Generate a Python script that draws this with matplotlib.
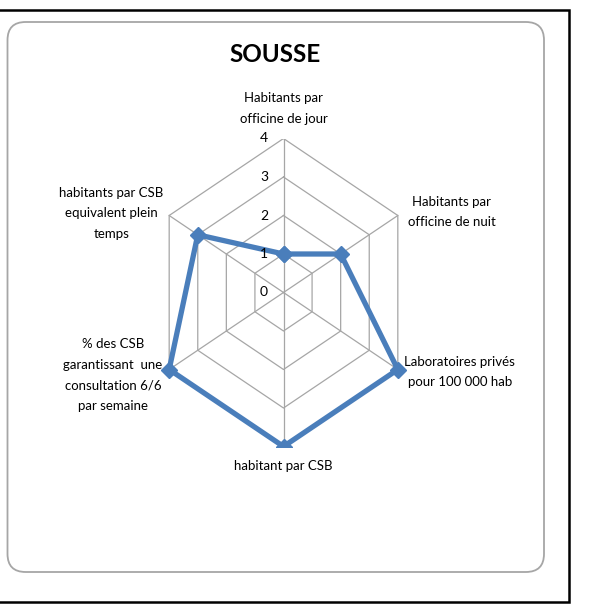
import numpy as np
import matplotlib
matplotlib.use("Agg")
from matplotlib import pyplot as plt
from matplotlib.patches import FancyBboxPatch, Rectangle

# données
categories = ["Habitants par\nofficine de jour",
              "Habitants par\nofficine de nuit",
              "Laboratoires privés\npour 100 000 hab",
              "habitant par CSB",
              "% des CSB\ngarantissant  une\nconsultation 6/6\npar semaine",
              "habitants par CSB\nequivalent plein\ntemps"]
valeurs = [1, 2, 4, 4, 4, 3]
graduations = [0, 1, 2, 3, 4]
titre = "SOUSSE"

plt.rcParams['font.family'] = ['Lato', 'DejaVu Sans']

W, H = 605, 604
fig = plt.figure(figsize=(W/100, H/100), dpi=100)

# cadre noir + cadre arrondi gris (en pixels)
def px(x0, y0, x1, y1):
    return [x0/W, 1 - y1/H, (x1-x0)/W, (y1-y0)/H]

b = px(-5, 10, 568.5, 602)
fig.patches.append(Rectangle((b[0], b[1]), b[2], b[3], transform=fig.transFigure,
                             fill=False, edgecolor="black", lw=1.8))
b = px(7.5, 22, 544, 572)
fig.patches.append(FancyBboxPatch((b[0], b[1]), b[2], b[3], transform=fig.transFigure,
                                  boxstyle="round,pad=0,rounding_size=0.03",
                                  fill=False, edgecolor="#a6a6a6", lw=1.3))

fig.text(275/W, 1 - 55/H, titre, ha="center", va="center",
         fontsize=17.5, fontweight="bold", color="black")

# axe radar : centre (283.5, 292.5) px, rayon 132 px en x, 154 px en y
cx, cy, rx, ry = 283.5, 292.5, 132, 154
ax = fig.add_axes(px(cx - rx, cy - ry, cx + rx, cy + ry))
ax.set_xlim(-4, 4)
ax.set_ylim(-4, 4)
ax.axis("off")

n = len(categories)
ang = np.arange(n) * 2*np.pi/n
sx, sy = np.sin(ang), np.cos(ang)

grille = "#a6a6a6"
for g in graduations[1:]:
    ax.plot(np.append(sx, sx[0])*g, np.append(sy, sy[0])*g, color=grille, lw=0.9, zorder=1)
for i in range(n):
    ax.plot([0, sx[i]*4], [0, sy[i]*4], color=grille, lw=0.9, zorder=1)

v = np.array(valeurs, dtype=float)
ax.plot(np.append(sx*v, sx[0]*v[0]), np.append(sy*v, sy[0]*v[0]),
        color="#4a7ebb", lw=3.8, marker="D", markersize=8.5, zorder=3,
        solid_joinstyle="miter")

for g in graduations:
    ax.text(-0.59, g, str(g), ha="center", va="center", fontsize=10, color="black")

# étiquettes des axes
pos_lab = [(0, 4.78, "center", "center"),
           (3.77, 2.09, "left", "center"),
           (3.66, -2.06, "left", "center"),
           (0, -4.5, "center", "center"),
           (-3.66, -2.14, "right", "center"),
           (-3.64, 2.06, "right", "center")]
for lab, (x, y, ha, va) in zip(categories, pos_lab):
    ax.text(x, y, lab, ha=ha, va=va, multialignment="center",
            fontsize=9.5, linespacing=1.85, color="black")

fig.savefig("out.png", dpi=100, facecolor="white")
